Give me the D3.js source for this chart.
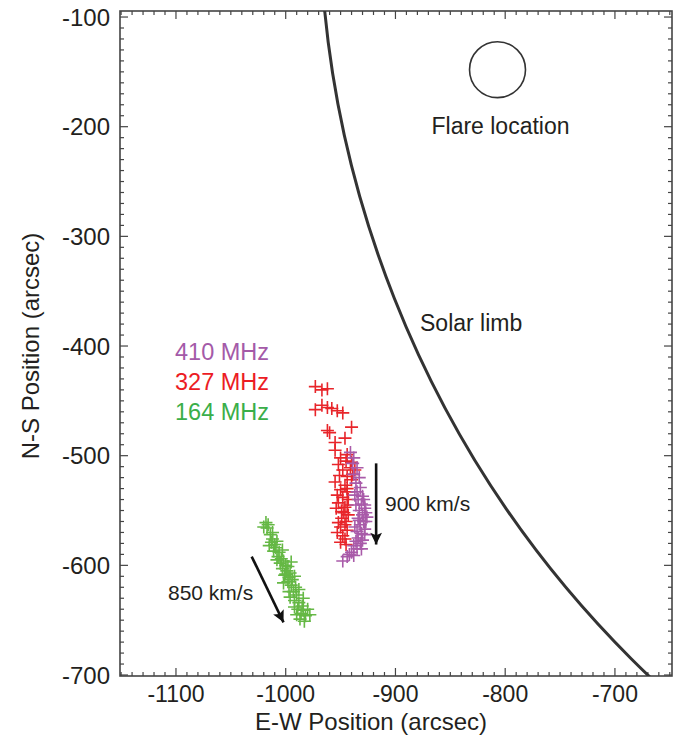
<!DOCTYPE html>
<html><head><meta charset="utf-8">
<script src="https://cdn.jsdelivr.net/npm/d3@7"></script>
<style>body{margin:0;background:#fff;} text{font-family:"Liberation Sans",Arial,sans-serif;}</style>
</head><body><svg id="c" width="676" height="740"></svg>
<script>
// ---- data (arcsec) ----
const xTicks = [-1100, -1000, -900, -800, -700];
const yTicks = [-100, -200, -300, -400, -500, -600, -700];
const series = ["410 MHz", "327 MHz", "164 MHz"];
const pts164 = [[-1018,-561],[-1016,-563],[-1017,-566],[-1014,-572],[-1012,-576],[-1013,-579],[-1010,-581],[-1009,-584],[-1011,-587],[-1006,-588],[-1007,-592],[-1004,-594],[-1002,-596],[-1005,-598],[-1000,-600],[-998,-601],[-1003,-603],[-999,-605],[-996,-607],[-1001,-609],[-997,-611],[-994,-613],[-998,-615],[-995,-618],[-991,-620],[-993,-624],[-990,-627],[-996,-629],[-992,-632],[-988,-634],[-985,-637],[-989,-640],[-984,-641],[-980,-640],[-986,-644],[-982,-646],[-987,-649],[-983,-651],[-1020,-565],[-1012,-570],[-1008,-578],[-1015,-582],[-1003,-586],[-1008,-595],[-995,-597],[-1000,-608],[-992,-610],[-1002,-616],[-988,-622],[-997,-624],[-984,-630],[-992,-638],[-978,-645],[-990,-645]];
const pts327 = [[-973,-437],[-967,-440],[-962,-439],[-973,-458],[-967,-454],[-962,-456],[-958,-457],[-953,-459],[-948,-461],[-962,-477],[-960,-479],[-940,-474],[-955,-488],[-946,-484],[-950,-502],[-944,-499],[-940,-506],[-941,-511],[-937,-513],[-948,-513],[-944,-519],[-940,-522],[-946,-527],[-950,-531],[-953,-536],[-948,-538],[-943,-540],[-952,-543],[-946,-547],[-944,-545],[-949,-551],[-943,-554],[-949,-557],[-945,-560],[-950,-565],[-944,-568],[-948,-573],[-950,-579],[-945,-581],[-955,-495],[-952,-508],[-945,-505],[-951,-518],[-955,-524],[-944,-530],[-954,-548],[-947,-552],[-952,-561],[-946,-563],[-953,-570],[-946,-576],[-939,-517],[-944,-533]];
const pts410 = [[-941,-497],[-938,-502],[-939,-507],[-935,-511],[-938,-517],[-933,-520],[-936,-525],[-932,-529],[-935,-533],[-930,-537],[-934,-540],[-931,-544],[-928,-548],[-933,-550],[-930,-554],[-934,-557],[-929,-560],[-932,-563],[-928,-567],[-935,-569],[-931,-571],[-934,-575],[-936,-578],[-932,-580],[-938,-582],[-935,-585],[-940,-588],[-938,-591],[-944,-592],[-948,-596],[-937,-536],[-929,-540],[-933,-559],[-937,-565],[-930,-577],[-927,-552],[-928,-545],[-927,-560],[-931,-585],[-942,-590],[-928,-572],[-936,-545],[-926,-556]];
const solarRadius = 969;
const flare = [-807, -148];
const arrow900 = [[-917.6,-507],[-917.6,-581]];
const arrow850 = [[-1031,-592],[-1002,-652]];

// ---- layout ----
const svg = d3.select("#c");
const L=120, R=672, T=11, B=676;
const x = d3.scaleLinear().domain([-1151,-648]).range([L,R]);
const y = d3.scaleLinear().domain([-94.5,-700.9]).range([T,B]);
const colors = {"410 MHz":"#a95ba9","327 MHz":"#e8252a","164 MHz":"#65b845"};
const textColors = {"410 MHz":"#a45aa8","327 MHz":"#ec1c24","164 MHz":"#3aae49"};
const axisCol = "#444";

svg.append("defs").append("clipPath").attr("id","clip").append("rect")
  .attr("x",L).attr("y",T).attr("width",R-L).attr("height",B-T);
svg.append("defs").append("marker").attr("id","ah").attr("viewBox","0 0 10 10")
  .attr("refX",10).attr("refY",5).attr("markerWidth",8).attr("markerHeight",4.5)
  .attr("markerUnits","strokeWidth").attr("orient","auto")
  .append("path").attr("d","M0,0 L10,5 L0,10 L2,5 Z").attr("fill","#111");

// minor / major ticks (inward on all sides)
const xMinor = d3.range(-1150,-647,10), yMinor = d3.range(-100,-701,-10);
const g = svg.append("g");
function tk(v, maj){return maj?8:4;}
xMinor.forEach(v=>{const maj=v%100===0; const l=tk(v,maj);
  g.append("line").attr("x1",x(v)).attr("x2",x(v)).attr("y1",B).attr("y2",B-l).attr("stroke",axisCol).attr("stroke-width",1.2);
  g.append("line").attr("x1",x(v)).attr("x2",x(v)).attr("y1",T).attr("y2",T+l).attr("stroke",axisCol).attr("stroke-width",1.2);});
yMinor.forEach(v=>{const maj=v%100===0; const l=tk(v,maj);
  g.append("line").attr("y1",y(v)).attr("y2",y(v)).attr("x1",L).attr("x2",L+l).attr("stroke",axisCol).attr("stroke-width",1.2);
  g.append("line").attr("y1",y(v)).attr("y2",y(v)).attr("x1",R).attr("x2",R-l).attr("stroke",axisCol).attr("stroke-width",1.2);});
svg.append("rect").attr("x",L).attr("y",T).attr("width",R-L).attr("height",B-T)
  .attr("fill","none").attr("stroke",axisCol).attr("stroke-width",1.6);

// tick labels
svg.append("g").selectAll("text").data(xTicks).join("text")
  .attr("x",d=>x(d)).attr("y",B+26).attr("text-anchor","middle")
  .attr("font-size",23).attr("fill","#231f20").text(d=>d);
svg.append("g").selectAll("text").data(yTicks).join("text")
  .attr("x",L-10).attr("y",d=>y(d)+8.5).attr("text-anchor","end")
  .attr("font-size",24).attr("fill","#231f20").text(d=>d);
svg.append("text").attr("x",371).attr("y",730).attr("text-anchor","middle")
  .attr("font-size",24).attr("fill","#231f20").text("E-W Position (arcsec)");
svg.append("text").attr("transform","translate(39,346) rotate(-90)").attr("text-anchor","middle")
  .attr("font-size",24).attr("fill","#231f20").text("N-S Position (arcsec)");

// solar limb
const pg = svg.append("g").attr("clip-path","url(#clip)");
pg.append("ellipse").attr("cx",x(0)).attr("cy",y(0))
  .attr("rx",x(solarRadius)-x(0)).attr("ry",Math.abs(y(solarRadius)-y(0)))
  .attr("fill","none").attr("stroke","#333").attr("stroke-width",3);

// flare
const fr = x(flare[0]+25.5)-x(flare[0]);
svg.append("ellipse").attr("cx",x(flare[0])).attr("cy",y(flare[1]))
  .attr("rx",fr).attr("ry",fr)
  .attr("fill","none").attr("stroke","#333").attr("stroke-width",1.6);
svg.append("text").attr("x",x(flare[0])+3).attr("y",134).attr("text-anchor","middle")
  .attr("font-size",23).attr("fill","#231f20").text("Flare location");
svg.append("text").attr("x",420).attr("y",331).attr("font-size",23).attr("fill","#231f20").text("Solar limb");

// scatter
function plus(sel, data, col){
  const s=6.5;
  sel.selectAll(null).data(data).join("path")
    .attr("d",d=>{const cx=x(d[0]),cy=y(d[1]);return `M${cx-s},${cy}H${cx+s}M${cx},${cy-s}V${cy+s}`;})
    .attr("stroke",col).attr("stroke-width",1.6).attr("fill","none");
}
plus(pg.append("g"), pts164, colors["164 MHz"]);
plus(pg.append("g"), pts327, colors["327 MHz"]);
plus(pg.append("g"), pts410, colors["410 MHz"]);

// arrows
[arrow900, arrow850].forEach(a=>{
  svg.append("line").attr("x1",x(a[0][0])).attr("y1",y(a[0][1])).attr("x2",x(a[1][0])).attr("y2",y(a[1][1]))
    .attr("stroke","#111").attr("stroke-width",2.6).attr("marker-end","url(#ah)");
});
svg.append("text").attr("x",385).attr("y",511).attr("font-size",21).attr("fill","#231f20").text("900 km/s");
svg.append("text").attr("x",168).attr("y",600).attr("font-size",21).attr("fill","#231f20").text("850 km/s");

// legend
svg.append("g").selectAll("text").data(series).join("text")
  .attr("x",175).attr("y",(d,i)=>360+i*30).attr("font-size",23.5)
  .attr("fill",d=>textColors[d]).text(d=>d);
</script></body></html>
